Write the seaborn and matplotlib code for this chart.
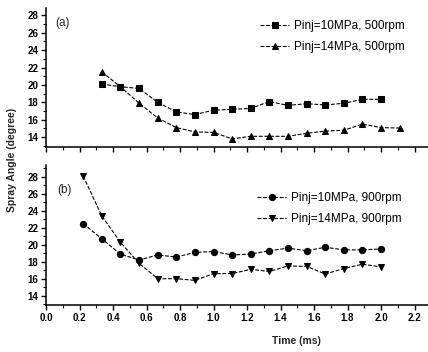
import numpy as np
import pandas as pd
import matplotlib
matplotlib.use("Agg")
import matplotlib.pyplot as plt
from matplotlib.ticker import MultipleLocator
import seaborn as sns

# ---- data ----
t_a_sq = [0.333, 0.444, 0.556, 0.667, 0.778, 0.889, 1.0, 1.111, 1.222, 1.333,
          1.444, 1.556, 1.667, 1.778, 1.889, 2.0]
ang_a_10 = [20.1, 19.8, 19.6, 18.0, 16.9, 16.6, 17.1, 17.2, 17.3, 18.1,
            17.65, 17.85, 17.7, 17.9, 18.35, 18.35]
t_a_tri = [0.333, 0.444, 0.556, 0.667, 0.778, 0.889, 1.0, 1.111, 1.222, 1.333,
           1.444, 1.556, 1.667, 1.778, 1.889, 2.0, 2.111]
ang_a_14 = [21.5, 19.8, 17.9, 16.2, 15.1, 14.6, 14.55, 13.8, 14.1, 14.1,
            14.1, 14.45, 14.7, 14.8, 15.5, 15.1, 15.05]

t_b = [0.222, 0.333, 0.444, 0.556, 0.667, 0.778, 0.889, 1.0, 1.111, 1.222,
       1.333, 1.444, 1.556, 1.667, 1.778, 1.889, 2.0]
ang_b_10 = [22.5, 20.7, 18.9, 18.2, 18.8, 18.55, 19.1, 19.2, 18.8, 18.9,
            19.3, 19.6, 19.3, 19.7, 19.4, 19.4, 19.5]
ang_b_14 = [28.1, 23.4, 20.3, 17.8, 16.0, 16.0, 15.8, 16.6, 16.6, 17.1,
            16.85, 17.5, 17.45, 16.55, 17.2, 17.7, 17.4]

labels_a = ["Pinj=10MPa, 500rpm", "Pinj=14MPa, 500rpm"]
labels_b = ["Pinj=10MPa, 900rpm", "Pinj=14MPa, 900rpm"]
yticks = [14, 16, 18, 20, 22, 24, 26, 28]
xticks = [0.0, 0.2, 0.4, 0.6, 0.8, 1.0, 1.2, 1.4, 1.6, 1.8, 2.0, 2.2]

sns.set_style("ticks")
plt.rcParams['font.family'] = ['Liberation Sans', 'DejaVu Sans']

W, H = 428, 352
fig = plt.figure(figsize=(W / 100, H / 100), dpi=100)

def px_axes(x0, y_top, x1, y_bot):
    return fig.add_axes([x0 / W, 1 - y_bot / H, (x1 - x0) / W, (y_bot - y_top) / H])

ax_a = px_axes(46, 8, 428, 147)
ax_b = px_axes(46, 165, 428, 305)

dash = (0, (3.5, 1.5))
kw = dict(color="black", linewidth=0.8, markeredgecolor="black",
          markerfacecolor="black")

sns.lineplot(x=t_a_sq, y=ang_a_10, ax=ax_a, marker="s", markersize=5,
             label=labels_a[0], linestyle=dash, **kw)
sns.lineplot(x=t_a_tri, y=ang_a_14, ax=ax_a, marker="^", markersize=5,
             label=labels_a[1], linestyle=dash, **kw)
sns.lineplot(x=t_b, y=ang_b_10, ax=ax_b, marker="o", markersize=4.5,
             label=labels_b[0], linestyle=dash, **kw)
sns.lineplot(x=t_b, y=ang_b_14, ax=ax_b, marker="v", markersize=5,
             label=labels_b[1], linestyle=dash, **kw)

ax_a.set_ylim(12.87, 28.85)
ax_b.set_ylim(12.9, 29.4)

# legend anchors (axes fraction): left edge of handle, vertical middle of legend
leg_anchor = {ax_a: (0.56, 0.795), ax_b: (0.552, 0.689)}

for ax in (ax_a, ax_b):
    ax.set_xlim(0, 2.28)
    ax.set_xticks(xticks)
    ax.xaxis.set_minor_locator(MultipleLocator(0.1))
    ax.set_yticks(yticks)
    ax.yaxis.set_minor_locator(MultipleLocator(1))
    for s in ("top", "right"):
        ax.spines[s].set_visible(False)
    for s in ("left", "bottom"):
        ax.spines[s].set_linewidth(1.1)
        ax.spines[s].set_color("black")
    ax.tick_params(which="major", direction="out", length=3.5, width=1,
                   labelsize=7, pad=2, colors="black")
    ax.tick_params(which="minor", direction="out", length=2, width=0.8,
                   colors="black")
    ax.set_xlabel("")
    ax.set_ylabel("")
    for lab in ax.get_yticklabels():
        lab.set_fontweight("bold")
    leg = ax.legend(loc="center left", bbox_to_anchor=leg_anchor[ax],
                    frameon=False, fontsize=8.5, handlelength=2.5,
                    handletextpad=0.35, labelspacing=0.8, borderpad=0,
                    borderaxespad=0)
    for txt in leg.get_texts():
        txt.set_color("black")

ax_a.tick_params(axis="x", labelbottom=False)
ax_b.set_xticklabels([f"{v:.1f}" for v in xticks], fontweight="bold")

ax_a.text(0.024, 0.89, "(a)", transform=ax_a.transAxes, fontsize=8.5,
          va="center", ha="left")
ax_b.text(0.03, 0.82, "(b)", transform=ax_b.transAxes, fontsize=8.5,
          va="center", ha="left")

fig.text(12 / W, 1 - 160 / H, "Spray Angle (degree)", rotation=90,
         ha="center", va="center", fontsize=7.5, fontweight="bold")
fig.text(296 / W, 1 - 341 / H, "Time (ms)", ha="center",
         va="center", fontsize=7.5, fontweight="bold")

fig.savefig("out.png", dpi=100, facecolor="white")
